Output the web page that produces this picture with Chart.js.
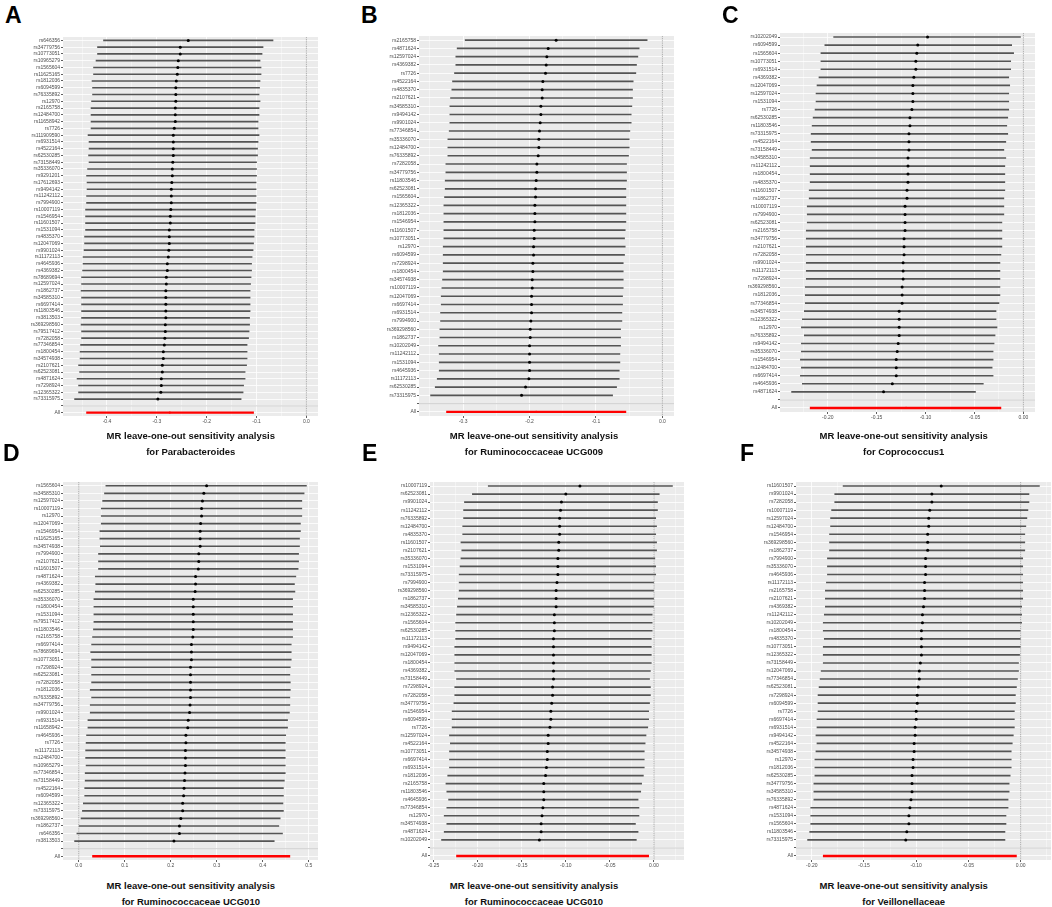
<!DOCTYPE html>
<html>
<head>
<meta charset="utf-8">
<script src="https://cdn.jsdelivr.net/npm/chart.js@4.4.1/dist/chart.umd.min.js"></script>
<style>
body { margin: 0; background: #fff; width: 1052px; height: 907px; position: relative; overflow: hidden;
       font-family: "Liberation Sans", Arial, sans-serif; }
.tag { position: absolute; font-weight: bold; font-size: 23px; line-height: 23px; color: #000; }
.cap { position: absolute; width: 320px; text-align: center; font-weight: bold; font-size: 9.5px; line-height: 16px; color: #111; }
canvas { position: absolute; }
</style>
</head>
<body>
<script>
// ---- data: leave-one-out estimates (b) and 95% CI bounds ----
const snpsA = ['rs646356','rs34779756','rs10773051','rs10965279','rs1565604','rs11625165','rs1812036','rs6094599','rs76335892','rs12970',
  'rs2165758','rs12484700','rs11658942','rs7726','rs111909590','rs6931514','rs4522164','rs62530285','rs73158449','rs35336070',
  'rs9291201','rs17612693','rs9494142','rs11242112','rs7994900','rs10007119','rs1546954','rs11601507','rs1531094','rs4835370',
  'rs12047069','rs9901024','rs11172113','rs4645936','rs4369382','rs78689694','rs12597024','rs1862737','rs34585310','rs6697414',
  'rs11803546','rs3813503','rs369298560','rs79517412','rs7282058','rs77346854','rs1800454','rs34574938','rs2107621','rs62523081',
  'rs4871624','rs7298924','rs12365322','rs73315975'];
const estA = [-0.237,-0.253,-0.253,-0.257,-0.258,-0.259,-0.261,-0.262,-0.262,-0.262,-0.263,-0.263,-0.263,-0.265,-0.267,-0.267,-0.267,-0.267,-0.268,-0.269,
  -0.269,-0.270,-0.271,-0.271,-0.271,-0.272,-0.273,-0.273,-0.275,-0.275,-0.275,-0.276,-0.277,-0.279,-0.279,-0.281,-0.281,-0.282,-0.282,-0.282,
  -0.282,-0.282,-0.283,-0.283,-0.284,-0.285,-0.287,-0.287,-0.289,-0.289,-0.291,-0.291,-0.292,-0.298];
const loA = [-0.407,-0.419,-0.419,-0.422,-0.427,-0.427,-0.430,-0.429,-0.429,-0.431,-0.432,-0.432,-0.432,-0.432,-0.438,-0.436,-0.436,-0.437,-0.436,-0.439,
  -0.441,-0.440,-0.440,-0.441,-0.441,-0.443,-0.443,-0.443,-0.443,-0.445,-0.445,-0.446,-0.448,-0.448,-0.449,-0.451,-0.451,-0.452,-0.451,-0.451,
  -0.451,-0.451,-0.452,-0.451,-0.451,-0.453,-0.454,-0.454,-0.457,-0.455,-0.460,-0.457,-0.457,-0.465];
const hiA = [-0.067,-0.087,-0.089,-0.093,-0.091,-0.091,-0.093,-0.094,-0.095,-0.093,-0.095,-0.095,-0.097,-0.097,-0.095,-0.097,-0.098,-0.098,-0.100,-0.100,
  -0.100,-0.101,-0.101,-0.101,-0.101,-0.102,-0.103,-0.103,-0.105,-0.105,-0.106,-0.107,-0.109,-0.110,-0.110,-0.111,-0.112,-0.113,-0.113,-0.113,
  -0.113,-0.114,-0.114,-0.115,-0.116,-0.119,-0.119,-0.119,-0.120,-0.123,-0.123,-0.126,-0.127,-0.131];
const allA = [-0.274, -0.441, -0.106];

const snpsB = ['rs2165758','rs4871624','rs12597024','rs4369382','rs7726','rs4522164','rs4835370','rs2107621','rs34585310','rs9494142',
  'rs9901024','rs77346854','rs35336070','rs12484700','rs76335892','rs7282058','rs34779756','rs11803546','rs62523081','rs1565604',
  'rs12365322','rs1812036','rs1546954','rs11601507','rs10773051','rs12970','rs6094599','rs7298924','rs1800454','rs34574938',
  'rs10007119','rs12047069','rs6697414','rs6931514','rs7994900','rs369298560','rs1862737','rs10202049','rs11242112','rs1531094',
  'rs4645936','rs11172113','rs62530285','rs73315975'];
const estB = [-0.160,-0.172,-0.174,-0.175,-0.176,-0.180,-0.181,-0.181,-0.183,-0.183,-0.184,-0.185,-0.186,-0.186,-0.187,-0.189,-0.189,-0.190,-0.191,-0.191,
  -0.192,-0.192,-0.192,-0.193,-0.193,-0.194,-0.194,-0.195,-0.195,-0.196,-0.196,-0.197,-0.197,-0.197,-0.198,-0.199,-0.199,-0.200,-0.200,-0.200,
  -0.200,-0.201,-0.206,-0.212];
const loB = [-0.297,-0.309,-0.311,-0.311,-0.313,-0.316,-0.317,-0.319,-0.320,-0.320,-0.320,-0.321,-0.323,-0.323,-0.323,-0.326,-0.326,-0.327,-0.327,-0.328,
  -0.329,-0.329,-0.329,-0.329,-0.329,-0.330,-0.330,-0.330,-0.330,-0.331,-0.332,-0.333,-0.333,-0.334,-0.334,-0.335,-0.335,-0.337,-0.336,-0.336,
  -0.336,-0.339,-0.342,-0.349];
const hiB = [-0.023,-0.035,-0.037,-0.039,-0.040,-0.044,-0.045,-0.045,-0.046,-0.047,-0.047,-0.049,-0.050,-0.050,-0.051,-0.054,-0.054,-0.054,-0.055,-0.055,
  -0.055,-0.055,-0.055,-0.056,-0.057,-0.056,-0.057,-0.059,-0.059,-0.059,-0.059,-0.060,-0.060,-0.061,-0.061,-0.063,-0.063,-0.063,-0.064,-0.064,
  -0.065,-0.065,-0.069,-0.075];
const allB = [-0.190, -0.325, -0.055];

const snpsC = ['rs10202049','rs6094599','rs1565604','rs10773051','rs6931514','rs4369382','rs12047069','rs12597024','rs1531094','rs7726',
  'rs62530285','rs11803546','rs73315975','rs4522164','rs73158449','rs34585310','rs11242112','rs1800454','rs4835370','rs11601507',
  'rs1862737','rs10007119','rs7994900','rs62523081','rs2165758','rs34779756','rs2107621','rs7282058','rs9901024','rs11172113',
  'rs7298924','rs369298560','rs1812036','rs77346854','rs34574938','rs12365322','rs12970','rs76335892','rs9494142','rs35336070',
  'rs1546954','rs12484700','rs6697414','rs4645936','rs4871624'];
const estC = [-0.098,-0.108,-0.109,-0.110,-0.110,-0.112,-0.113,-0.113,-0.113,-0.114,-0.116,-0.116,-0.117,-0.117,-0.117,-0.118,-0.118,-0.118,-0.118,-0.119,
  -0.119,-0.121,-0.121,-0.121,-0.121,-0.122,-0.122,-0.122,-0.123,-0.123,-0.123,-0.124,-0.124,-0.124,-0.127,-0.127,-0.127,-0.127,-0.128,-0.129,
  -0.130,-0.130,-0.130,-0.134,-0.143];
const loC = [-0.194,-0.203,-0.207,-0.207,-0.207,-0.209,-0.211,-0.212,-0.212,-0.213,-0.215,-0.216,-0.217,-0.217,-0.216,-0.218,-0.218,-0.218,-0.218,-0.219,
  -0.219,-0.221,-0.221,-0.221,-0.222,-0.222,-0.222,-0.222,-0.222,-0.222,-0.222,-0.223,-0.223,-0.223,-0.224,-0.226,-0.227,-0.224,-0.227,-0.227,
  -0.228,-0.227,-0.228,-0.226,-0.237];
const hiC = [-0.003,-0.012,-0.010,-0.013,-0.013,-0.015,-0.014,-0.015,-0.015,-0.015,-0.016,-0.017,-0.016,-0.018,-0.020,-0.018,-0.019,-0.019,-0.019,-0.019,
  -0.020,-0.020,-0.020,-0.022,-0.022,-0.022,-0.022,-0.023,-0.024,-0.024,-0.024,-0.024,-0.024,-0.025,-0.028,-0.028,-0.027,-0.029,-0.030,-0.031,
  -0.031,-0.032,-0.031,-0.041,-0.049];
const allC = [-0.120, -0.218, -0.023];

const snpsD = ['rs1565604','rs34585310','rs12597024','rs10007119','rs12970','rs12047069','rs1546954','rs11625165','rs34574938','rs7994900',
  'rs2107621','rs11601507','rs4871624','rs4369382','rs62530285','rs35336070','rs1800454','rs1531094','rs79517412','rs11803546',
  'rs2165758','rs6697414','rs78689694','rs10773051','rs7298924','rs62523081','rs7282058','rs1812036','rs76335892','rs34779756',
  'rs9901024','rs6931514','rs11658942','rs4645936','rs7726','rs11172113','rs12484700','rs10965279','rs77346854','rs73158449',
  'rs4522164','rs6094599','rs12365322','rs73315975','rs369298560','rs1862737','rs646356','rs3813503'];
const estD = [0.278,0.272,0.269,0.267,0.267,0.265,0.264,0.264,0.264,0.261,0.261,0.260,0.254,0.254,0.253,0.249,0.249,0.249,0.249,0.249,
  0.248,0.245,0.245,0.245,0.243,0.243,0.243,0.243,0.243,0.242,0.241,0.238,0.237,0.233,0.233,0.232,0.232,0.232,0.231,0.230,
  0.229,0.228,0.226,0.226,0.222,0.219,0.219,0.207];
const loD = [0.059,0.056,0.052,0.049,0.049,0.049,0.046,0.046,0.047,0.043,0.043,0.043,0.036,0.037,0.036,0.033,0.033,0.033,0.033,0.032,
  0.030,0.028,0.026,0.028,0.028,0.028,0.028,0.025,0.028,0.025,0.025,0.020,0.020,0.017,0.016,0.015,0.015,0.016,0.014,0.014,
  0.013,0.013,0.010,0.008,0.005,0.001,-0.004,-0.009];
const hiD = [0.495,0.490,0.485,0.485,0.485,0.482,0.482,0.480,0.480,0.478,0.478,0.477,0.472,0.469,0.470,0.465,0.465,0.465,0.465,0.465,
  0.465,0.462,0.462,0.462,0.460,0.459,0.460,0.460,0.459,0.459,0.458,0.454,0.454,0.450,0.449,0.449,0.449,0.449,0.449,0.447,
  0.445,0.445,0.444,0.445,0.438,0.435,0.443,0.425];
const allD = [0.245, 0.030, 0.459];

const snpsE = ['rs10007119','rs62523081','rs9901024','rs11242112','rs76335892','rs12484700','rs4835370','rs11601507','rs2107621','rs35336070',
  'rs1531094','rs73315975','rs7994900','rs369298560','rs1862737','rs34585310','rs12365322','rs1565604','rs62530285','rs11172113',
  'rs9494142','rs12047069','rs1800454','rs4369382','rs73158449','rs7298924','rs7282058','rs34779756','rs1546954','rs6094599',
  'rs7726','rs12597024','rs4522164','rs10773051','rs6697414','rs6931514','rs1812036','rs2165758','rs11803546','rs4645936',
  'rs77346854','rs12970','rs34574938','rs4871624','rs10202049'];
const estE = [-0.084,-0.100,-0.105,-0.106,-0.107,-0.107,-0.107,-0.108,-0.108,-0.109,-0.109,-0.109,-0.110,-0.111,-0.111,-0.111,-0.113,-0.113,-0.113,-0.114,
  -0.114,-0.114,-0.114,-0.114,-0.114,-0.115,-0.115,-0.116,-0.117,-0.117,-0.118,-0.120,-0.120,-0.121,-0.121,-0.122,-0.123,-0.125,-0.125,-0.125,
  -0.126,-0.127,-0.128,-0.128,-0.130];
const loE = [-0.188,-0.206,-0.215,-0.216,-0.216,-0.217,-0.217,-0.219,-0.218,-0.219,-0.220,-0.221,-0.221,-0.221,-0.222,-0.223,-0.224,-0.225,-0.225,-0.225,
  -0.226,-0.226,-0.226,-0.226,-0.224,-0.226,-0.226,-0.227,-0.229,-0.229,-0.229,-0.232,-0.231,-0.232,-0.232,-0.232,-0.234,-0.236,-0.235,-0.233,
  -0.235,-0.238,-0.235,-0.238,-0.241];
const hiE = [0.021,0.006,0.004,0.004,0.002,0.003,0.002,0.003,0.003,0.001,0.002,0.002,0.000,0.000,0.000,0.000,-0.002,-0.002,-0.002,-0.003,
  -0.003,-0.003,-0.003,-0.004,-0.005,-0.004,-0.004,-0.005,-0.006,-0.006,-0.007,-0.009,-0.010,-0.011,-0.011,-0.011,-0.012,-0.014,-0.015,-0.018,
  -0.017,-0.017,-0.021,-0.018,-0.020];
const allE = [-0.115, -0.224, -0.006];

const snpsF = ['rs11601507','rs9901024','rs7282058','rs10007119','rs12597024','rs12484700','rs1546954','rs369298560','rs1862737','rs7994900',
  'rs35336070','rs4645936','rs11172113','rs2165758','rs2107621','rs4369382','rs11242112','rs10202049','rs1800454','rs4835370',
  'rs10773051','rs12365322','rs73158449','rs12047069','rs77346854','rs62523081','rs7298924','rs6094599','rs7726','rs6697414',
  'rs6931514','rs9494142','rs4522164','rs34574938','rs12970','rs1812036','rs62530285','rs34779756','rs34585310','rs76335892',
  'rs4871624','rs1531094','rs1565604','rs11803546','rs73315975'];
const estF = [-0.076,-0.085,-0.085,-0.087,-0.088,-0.088,-0.089,-0.089,-0.089,-0.091,-0.091,-0.091,-0.092,-0.092,-0.092,-0.093,-0.094,-0.094,-0.095,-0.095,
  -0.095,-0.095,-0.096,-0.097,-0.097,-0.098,-0.099,-0.099,-0.100,-0.100,-0.101,-0.101,-0.102,-0.102,-0.103,-0.103,-0.104,-0.104,-0.104,-0.105,
  -0.106,-0.107,-0.107,-0.109,-0.110];
const loF = [-0.170,-0.178,-0.178,-0.181,-0.182,-0.182,-0.183,-0.183,-0.183,-0.185,-0.185,-0.185,-0.186,-0.187,-0.187,-0.187,-0.188,-0.189,-0.189,-0.188,
  -0.189,-0.189,-0.189,-0.191,-0.192,-0.193,-0.194,-0.194,-0.194,-0.195,-0.195,-0.196,-0.195,-0.196,-0.197,-0.197,-0.197,-0.198,-0.198,-0.198,
  -0.201,-0.201,-0.201,-0.202,-0.204];
const hiF = [0.018,0.008,0.008,0.007,0.006,0.005,0.004,0.004,0.004,0.002,0.002,0.002,0.002,0.002,0.002,0.001,0.001,0.001,0.000,0.000,
  0.000,-0.001,-0.002,-0.002,-0.003,-0.004,-0.005,-0.005,-0.006,-0.006,-0.006,-0.007,-0.008,-0.009,-0.009,-0.009,-0.010,-0.011,-0.011,-0.012,
  -0.012,-0.014,-0.014,-0.015,-0.015];
const allF = [-0.097, -0.189, -0.004];

const taxa = ['Parabacteroides', 'Ruminococcaceae UCG009', 'Coprococcus1', 'Ruminococcaceae UCG010', 'Ruminococcaceae UCG010', 'Veillonellaceae'];
const tags = ['A', 'B', 'C', 'D', 'E', 'F'];

// ---- layout: plot box [left, top, width, height], tag position, caption centre ----
const layout = [
  { box: [63, 37, 255, 379],  tag: [5, 4],     cap: [190.8, 427.5], major: 0.1,  digits: 1 },
  { box: [419, 36, 255, 380], tag: [361, 4],   cap: [534, 427.5],   major: 0.1,  digits: 1 },
  { box: [780, 33, 255, 379], tag: [722, 4],   cap: [903.7, 427.5], major: 0.05, digits: 2 },
  { box: [63, 482, 255, 378], tag: [3, 442],   cap: [190.8, 877.7], major: 0.1,  digits: 1 },
  { box: [430, 482, 254, 378], tag: [362, 442], cap: [534, 877.7],   major: 0.05, digits: 2 },
  { box: [796, 482, 255, 378], tag: [740, 442], cap: [903.7, 877.7], major: 0.05, digits: 2 },
];

const series = [
  [snpsA, estA, loA, hiA, allA],
  [snpsB, estB, loB, hiB, allB],
  [snpsC, estC, loC, hiC, allC],
  [snpsD, estD, loD, hiD, allD],
  [snpsE, estE, loE, hiE, allE],
  [snpsF, estF, loF, hiF, allF],
];

Chart.defaults.font.family = '"Liberation Sans", Arial, sans-serif';
Chart.defaults.color = '#4D4D4D';

// grey ggplot panel, dotted zero line under the bars, grey rule at the blank row
const ggPanel = {
  id: 'ggPanel',
  beforeDraw(chart) {
    const { ctx, chartArea: a } = chart;
    ctx.save();
    ctx.fillStyle = '#EBEBEB';
    ctx.fillRect(a.left, a.top, a.right - a.left, a.bottom - a.top);
    ctx.restore();
  },
  beforeDatasetsDraw(chart) {
    const { ctx, chartArea: a } = chart;
    const x0 = chart.scales.x.getPixelForValue(0);
    ctx.save();
    ctx.strokeStyle = '#8c8c8c';
    ctx.lineWidth = 0.7;
    ctx.setLineDash([1.2, 0.6]);
    ctx.beginPath();
    ctx.moveTo(x0, a.top);
    ctx.lineTo(x0, a.bottom);
    ctx.stroke();
    ctx.restore();
  },
  afterDatasetsDraw(chart) {
    const { ctx, chartArea: a } = chart;
    const yScale = chart.scales.y;
    const yb = yScale.getPixelForValue(yScale.getLabels().indexOf(''));
    ctx.save();
    ctx.strokeStyle = '#BEBEBE';
    ctx.lineWidth = 0.7;
    ctx.beginPath();
    ctx.moveTo(a.left, yb);
    ctx.lineTo(a.right, yb);
    ctx.stroke();
    ctx.restore();
  },
};

function isMajor(v, major) {
  return Math.abs(v / major - Math.round(v / major)) < 1e-6;
}

function drawPanel(i) {
  const [snps, est, lo, hi, all] = series[i];
  const L = layout[i];
  const [left, top, w, h] = L.box;
  const PADL = 4, YW = 62, PADT = 6, PADR = 6, XH = 14;

  const cv = document.createElement('canvas');
  cv.width = PADL + YW + w + PADR;
  cv.height = PADT + h + XH;
  cv.style.left = (left - YW - PADL) + 'px';
  cv.style.top = (top - PADT) + 'px';
  document.body.appendChild(cv);

  const labels = snps.concat(['', 'All']);
  const ciSnp = snps.map((_, k) => [lo[k], hi[k]]).concat([null, null]);
  const ciAll = snps.map(() => null).concat([null, [all[1], all[2]]]);
  const pts = est.concat([null, all[0]]);
  const ptColors = snps.map(() => '#000').concat(['#000', '#FF0000']);
  const ptRadius = snps.map(() => 1.5).concat([0, 1.1]);

  // x range as ggplot trains it: CIs plus the zero line, 5% expansion
  const allVals = lo.concat(hi, [0, all[1], all[2]]);
  const xmin = Math.min(...allVals), xmax = Math.max(...allVals);
  const pad = (xmax - xmin) * 0.05;

  new Chart(cv, {
    type: 'bar',
    data: {
      labels: labels,
      datasets: [
        {
          type: 'line',
          data: pts,
          showLine: false,
          pointBackgroundColor: ptColors,
          pointBorderWidth: 0,
          pointRadius: ptRadius,
          order: 0,
        },
        {
          data: ciSnp,
          backgroundColor: '#555555',
          barThickness: 1,
          grouped: false,
          order: 1,
        },
        {
          data: ciAll,
          backgroundColor: '#FF0000',
          barThickness: 1.8,
          grouped: false,
          order: 1,
        },
      ],
    },
    options: {
      indexAxis: 'y',
      responsive: false,
      animation: false,
      layout: { padding: { left: PADL, top: PADT, right: PADR, bottom: 0 } },
      plugins: { legend: { display: false }, tooltip: { enabled: false } },
      scales: {
        x: {
          type: 'linear',
          position: 'bottom',
          min: xmin - pad,
          max: xmax + pad,
          border: { display: false },
          grid: {
            color: '#FFFFFF',
            lineWidth: c => (c.tick && isMajor(c.tick.value, L.major) ? 0.8 : 0.4),
            tickColor: c => (c.tick && isMajor(c.tick.value, L.major) ? '#333333' : 'rgba(0,0,0,0)'),
            tickLength: 2,
          },
          ticks: {
            stepSize: L.major / 2,
            includeBounds: false,
            autoSkip: false,
            maxRotation: 0,
            padding: 1,
            font: { size: 5 },
            color: '#4D4D4D',
            callback: v => (isMajor(v, L.major) ? v.toFixed(L.digits) : ''),
          },
          afterFit(scale) { scale.height = XH; },
        },
        y: {
          type: 'category',
          offset: true,
          border: { display: false },
          grid: { color: '#FFFFFF', lineWidth: 0.8, offset: false, tickColor: '#333333', tickLength: 2 },
          ticks: { autoSkip: false, padding: 1, font: { size: 5 }, color: '#4D4D4D' },
          afterFit(scale) { scale.width = YW; },
        },
      },
    },
    plugins: [ggPanel],
  });

  const tag = document.createElement('div');
  tag.className = 'tag';
  tag.textContent = tags[i];
  tag.style.left = L.tag[0] + 'px';
  tag.style.top = L.tag[1] + 'px';
  document.body.appendChild(tag);

  const cap = document.createElement('div');
  cap.className = 'cap';
  cap.innerHTML = 'MR leave-one-out sensitivity analysis<br>for ' + taxa[i];
  cap.style.left = (L.cap[0] - 160) + 'px';
  cap.style.top = L.cap[1] + 'px';
  document.body.appendChild(cap);
}

for (let i = 0; i < series.length; i++) drawPanel(i);
</script>
</body>
</html>
